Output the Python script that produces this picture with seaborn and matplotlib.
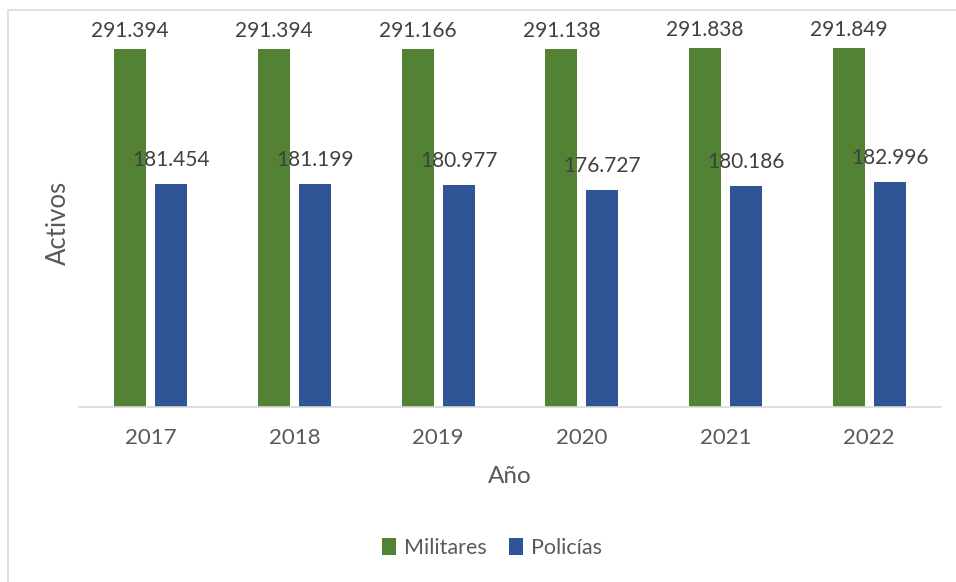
import matplotlib
matplotlib.use("Agg")
import matplotlib.pyplot as plt
from matplotlib.patches import Patch, Rectangle
import pandas as pd
import seaborn as sns

years = ["2017", "2018", "2019", "2020", "2021", "2022"]
militares = [291394, 291394, 291166, 291138, 291838, 291849]
policias = [181454, 181199, 180977, 176727, 180186, 182996]
series_names = ["Militares", "Policías"]
colors = {"Militares": "#548235", "Policías": "#2F5597"}

df = pd.DataFrame({
    "Año": years * 2,
    "Activos": militares + policias,
    "Serie": [series_names[0]] * len(years) + [series_names[1]] * len(years),
})

sns.set_theme(style="white")
plt.rcParams["font.family"] = ["Lato", "DejaVu Sans"]

text_dark = "#404040"
text_mid = "#595959"

fig = plt.figure(figsize=(9.56, 5.82), dpi=100)
ax = fig.add_axes([79 / 956, 1 - 407 / 582, (941 - 79) / 956, (407 - 38.4) / 582])

sns.barplot(data=df, x="Año", y="Activos", hue="Serie", order=years,
            hue_order=series_names, palette=colors, width=0.572, gap=0.22,
            saturation=1, edgecolor="none", legend=False, ax=ax)

ax.set_ylim(0, 300000)
ax.set_yticks([])
for side in ["top", "right", "left"]:
    ax.spines[side].set_visible(False)
ax.spines["bottom"].set_color("#D9D9D9")
ax.spines["bottom"].set_linewidth(1.2)
ax.tick_params(axis="x", length=0, labelsize=16, labelcolor=text_mid, pad=15)

ax.set_xlabel("Año", fontsize=17.5, color=text_mid, labelpad=13)
ax.set_ylabel("Activos", fontsize=18.5, color=text_mid, labelpad=6)

def fmt(v):
    return f"{v:,}".replace(",", ".")

offsets = {"Militares": 6, "Policías": 10}
for container, name in zip(ax.containers, series_names):
    for bar in container:
        h = bar.get_height()
        ax.annotate(fmt(int(round(h))), (bar.get_x() + bar.get_width() / 2, h),
                    xytext=(0, offsets[name]), textcoords="offset points",
                    ha="center", va="bottom", fontsize=15, color=text_dark,
                    annotation_clip=False)

handles = [Patch(facecolor=colors[n], edgecolor="none") for n in series_names]
fig.legend(handles, series_names, loc="center", bbox_to_anchor=(492 / 956, 34 / 582),
           ncol=2, frameon=False, fontsize=15.5, handlelength=0.65, handleheight=0.8,
           handletextpad=0.35, columnspacing=1.05, labelcolor=text_mid)

fig.patches.append(Rectangle((8 / 956, -0.05), 1.1, 1 - 10 / 582 + 0.05,
                             transform=fig.transFigure, fill=False,
                             edgecolor="#D9D9D9", linewidth=1.2, zorder=0))

fig.savefig("out.png", dpi=100)
